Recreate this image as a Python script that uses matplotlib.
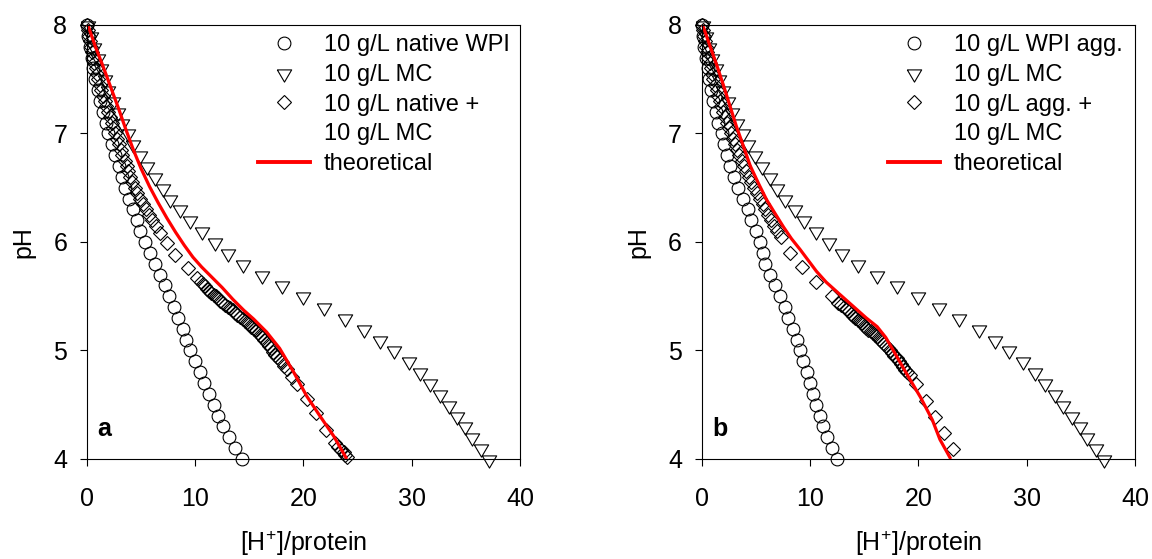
import numpy as np
import matplotlib.pyplot as plt
from matplotlib.lines import Line2D

plt.rcParams['font.family'] = ['Liberation Sans', 'DejaVu Sans']
plt.rcParams['mathtext.fontset'] = 'custom'
plt.rcParams['mathtext.rm'] = 'Liberation Sans'
plt.rcParams['mathtext.it'] = 'Liberation Sans:italic'
plt.rcParams['mathtext.bf'] = 'Liberation Sans:bold'

# pH steps of the circle / triangle titrations
ph_grid = [8.0, 7.9, 7.8, 7.7, 7.6, 7.5, 7.4, 7.3, 7.2, 7.1,
           7.0, 6.9, 6.8, 6.7, 6.6, 6.5, 6.4, 6.3, 6.2, 6.1,
           6.0, 5.9, 5.8, 5.7, 5.6, 5.5, 5.4, 5.3, 5.2, 5.1,
           5.0, 4.9, 4.8, 4.7, 4.6, 4.5, 4.4, 4.3, 4.2, 4.1, 4.0]

# panel a: 10 g/L native WPI
wpi_native_x = [0.05, 0.15, 0.3, 0.45, 0.6, 0.8, 1.0, 1.25, 1.5, 1.75,
                2.0, 2.3, 2.6, 2.95, 3.25, 3.55, 3.9, 4.25, 4.6, 4.95,
                5.4, 5.85, 6.3, 6.8, 7.2, 7.6, 8.05, 8.45, 8.85, 9.2,
                9.55, 10.0, 10.45, 10.85, 11.25, 11.7, 12.15, 12.6, 13.1, 13.65, 14.3]

# 10 g/L MC (both panels)
mc_x = [0.15, 0.4, 0.7, 1.0, 1.3, 1.65, 2.0, 2.4, 2.85, 3.3,
        3.8, 4.3, 4.9, 5.6, 6.3, 7.0, 7.7, 8.6, 9.5, 10.6,
        11.8, 13.0, 14.4, 16.2, 18.05, 20.0, 21.9, 23.8, 25.6, 27.1,
        28.4, 29.7, 30.8, 31.7, 32.6, 33.4, 34.2, 34.9, 35.6, 36.4, 37.1]

# panel b: 10 g/L WPI agg.
wpi_agg_x = [0.05, 0.15, 0.27, 0.4, 0.55, 0.7, 0.88, 1.07, 1.3, 1.55,
             1.85, 2.1, 2.35, 2.65, 3.0, 3.4, 3.85, 4.25, 4.6, 5.0,
             5.35, 5.65, 5.9, 6.3, 6.8, 7.25, 7.7, 8.0, 8.45, 8.8,
             9.1, 9.4, 9.7, 10.0, 10.3, 10.6, 10.9, 11.25, 11.55, 12.0, 12.5]

# panel a: 10 g/L native + 10 g/L MC
mix_native_ph = [8.00, 7.95, 7.90, 7.85, 7.80, 7.75, 7.70, 7.65, 7.60, 7.55,
                 7.50, 7.45, 7.40, 7.35, 7.30, 7.25, 7.20, 7.15, 7.10, 7.05,
                 7.00, 6.95, 6.90, 6.85, 6.80, 6.75, 6.70, 6.65, 6.60, 6.55,
                 6.50, 6.45, 6.40, 6.35, 6.30, 6.25, 6.20, 6.15, 6.08, 5.99,
                 5.88, 5.76, 5.67,
                 5.63, 5.61, 5.59, 5.57, 5.55, 5.53, 5.51, 5.50, 5.48, 5.46,
                 5.44, 5.42, 5.40, 5.39, 5.37, 5.35, 5.33, 5.31, 5.29, 5.27,
                 5.26, 5.24, 5.22, 5.20, 5.19, 5.16, 5.14, 5.12, 5.10, 5.07,
                 5.04, 5.02, 4.99, 4.96, 4.94, 4.91, 4.89, 4.86, 4.83,
                 4.76, 4.69, 4.55, 4.42, 4.27, 4.15, 4.11, 4.08, 4.06, 4.04, 4.02]
mix_native_x = [0.05, 0.12, 0.2, 0.3, 0.4, 0.5, 0.6, 0.7, 0.82, 0.95,
                1.07, 1.2, 1.35, 1.5, 1.64, 1.78, 1.95, 2.12, 2.3, 2.45,
                2.6, 2.78, 2.95, 3.12, 3.3, 3.5, 3.68, 3.85, 4.02, 4.2,
                4.42, 4.65, 4.9, 5.15, 5.45, 5.75, 6.05, 6.4, 6.8, 7.4,
                8.1, 9.3, 10.15,
                10.5, 10.7, 10.9, 11.1, 11.3, 11.5, 11.7, 11.9, 12.1, 12.3,
                12.6, 12.8, 13.0, 13.2, 13.5, 13.7, 13.9, 14.1, 14.4, 14.6,
                14.8, 15.0, 15.2, 15.4, 15.6, 15.8, 16.0, 16.2, 16.4, 16.6,
                16.8, 17.0, 17.2, 17.4, 17.6, 17.8, 18.0, 18.2, 18.5,
                18.9, 19.4, 20.35, 21.2, 22.1, 22.9, 23.2, 23.5, 23.7, 23.85, 24.0]

# panel b: 10 g/L agg. + 10 g/L MC
mix_agg_ph = [8.00, 7.95, 7.90, 7.85, 7.80, 7.75, 7.70, 7.65, 7.60, 7.55,
              7.50, 7.45, 7.40, 7.35, 7.30, 7.25, 7.20, 7.15, 7.10, 7.05,
              7.00, 6.95, 6.90, 6.85, 6.80, 6.75, 6.70, 6.65, 6.60, 6.55,
              6.50, 6.45, 6.40, 6.35, 6.30, 6.25, 6.20, 6.15, 6.10, 6.05,
              5.90, 5.77, 5.63, 5.50,
              5.44, 5.42, 5.40, 5.38, 5.36, 5.34, 5.32, 5.30, 5.28, 5.27,
              5.25, 5.23, 5.21, 5.19, 5.18, 5.16, 5.14, 5.13, 5.11, 5.09,
              5.06, 5.04, 5.02, 5.00, 4.98, 4.95, 4.93, 4.90, 4.88, 4.85,
              4.82, 4.80, 4.77,
              4.69, 4.53, 4.39, 4.24, 4.09]
mix_agg_x = [0.05, 0.12, 0.2, 0.3, 0.4, 0.5, 0.62, 0.74, 0.86, 0.98,
             1.1, 1.24, 1.38, 1.52, 1.67, 1.82, 1.98, 2.15, 2.32, 2.5,
             2.7, 2.9, 3.1, 3.3, 3.5, 3.7, 3.9, 4.1, 4.35, 4.6,
             4.85, 5.1, 5.35, 5.65, 5.9, 6.15, 6.4, 6.7, 7.0, 7.3,
             8.2, 9.3, 10.6, 12.0,
             12.6, 12.9, 13.1, 13.4, 13.6, 13.8, 14.0, 14.2, 14.4, 14.6,
             14.8, 15.0, 15.2, 15.4, 15.6, 15.8, 16.0, 16.2, 16.4, 16.6,
             16.8, 17.0, 17.2, 17.4, 17.6, 17.8, 18.0, 18.2, 18.4, 18.6,
             18.8, 19.0, 19.25,
             19.8, 20.7, 21.5, 22.4, 23.2]

# theoretical curves
theo_a_x = [0.1, 0.8, 1.5, 2.2, 2.9, 3.6, 4.3, 5.0, 5.8, 6.6, 7.4, 8.2, 9.0, 9.8,
            10.6, 11.5, 12.5, 13.5, 14.5, 15.4, 16.6, 17.8, 19.1, 20.3, 21.5, 22.8, 24.0]
theo_a_ph = [8.0, 7.8, 7.62, 7.43, 7.24, 7.04, 6.85, 6.68, 6.51, 6.36, 6.22, 6.09, 5.97, 5.86,
             5.77, 5.68, 5.58, 5.47, 5.37, 5.29, 5.17, 5.02, 4.80, 4.58, 4.40, 4.21, 4.0]
theo_b_x = [0.1, 0.8, 1.4, 2.0, 2.6, 3.2, 3.8, 4.5, 5.3, 6.0, 6.8, 7.55, 8.3, 9.1, 10.0,
            10.6, 11.5, 12.5, 13.4, 14.3, 15.2, 16.2, 17.0, 17.7, 18.9, 20.2, 21.3, 22.0, 23.0]
theo_b_ph = [8.0, 7.8, 7.63, 7.45, 7.26, 7.07, 6.9, 6.7, 6.53, 6.39, 6.26, 6.14, 6.03, 5.93, 5.81,
             5.73, 5.63, 5.54, 5.46, 5.38, 5.30, 5.22, 5.12, 5.0, 4.79, 4.57, 4.36, 4.18, 4.0]

panels = [
    ('a', wpi_native_x, mix_native_x, mix_native_ph, theo_a_x, theo_a_ph,
     ['10 g/L native WPI', '10 g/L MC', '10 g/L native +', '10 g/L MC', 'theoretical'], 0.0753, 0.395),
    ('b', wpi_agg_x, mix_agg_x, mix_agg_ph, theo_b_x, theo_b_ph,
     ['10 g/L WPI agg.', '10 g/L MC', '10 g/L agg. +', '10 g/L MC', 'theoretical'], 0.609, 0.430),
]

# flattened downward triangle (wider than tall), centred on its centroid
tri_down = [(-1.0, 0.5), (1.0, 0.5), (0.0, -1.2), (-1.0, 0.5)]

fig = plt.figure(figsize=(11.52, 5.59), dpi=100)

mk = dict(linestyle='none', markerfacecolor='none', markeredgecolor='black',
          markeredgewidth=0.8, clip_on=False)
circ_style = dict(marker='o', markersize=9.2)
tri_style = dict(marker=tri_down, markersize=12.4)
dia_style = dict(marker='D', markersize=6.8)

for tag, circ_x, dia_x, dia_ph, th_x, th_ph, labels, left, leg_x in panels:
    ax = fig.add_axes([left, 0.1789, 0.3762, 0.7764])
    ax.plot(circ_x, ph_grid, **circ_style, **mk)
    ax.plot(mc_x, ph_grid, **tri_style, **mk)
    ax.plot(dia_x, dia_ph, **dia_style, **mk)
    ax.plot(th_x, th_ph, color='#ff0000', linewidth=2.3, clip_on=False,
            solid_capstyle='butt', solid_joinstyle='round')

    ax.set_xlim(0, 40)
    ax.set_ylim(4, 8)
    ax.set_xticks([0, 10, 20, 30, 40])
    ax.set_yticks([4, 5, 6, 7, 8])
    ax.tick_params(direction='out', length=5, width=0.8, labelsize=18)
    ax.tick_params(axis='x', pad=15)
    ax.tick_params(axis='y', pad=9)
    for sp in ax.spines.values():
        sp.set_linewidth(0.8)
    ax.set_xlabel('[H$^{+}$]/protein', fontsize=18, labelpad=13)
    ax.set_ylabel('pH', fontsize=18, labelpad=13)
    ax.text(0.025, 0.068, tag, transform=ax.transAxes, fontsize=18,
            fontweight='bold', ha='left', va='center')

    handles = [
        Line2D([], [], **circ_style, **mk),
        Line2D([], [], **tri_style, **mk),
        Line2D([], [], **dia_style, **mk),
        Line2D([], [], linestyle='none'),
        Line2D([], [], color='#ff0000', linewidth=2.8),
    ]
    ax.legend(handles, labels, loc='upper left', bbox_to_anchor=(leg_x, 0.979),
              frameon=False, fontsize=17, borderpad=0, borderaxespad=0,
              handlelength=2.2, handletextpad=0.6, labelspacing=0.33)

fig.savefig('out.png', dpi=100)
